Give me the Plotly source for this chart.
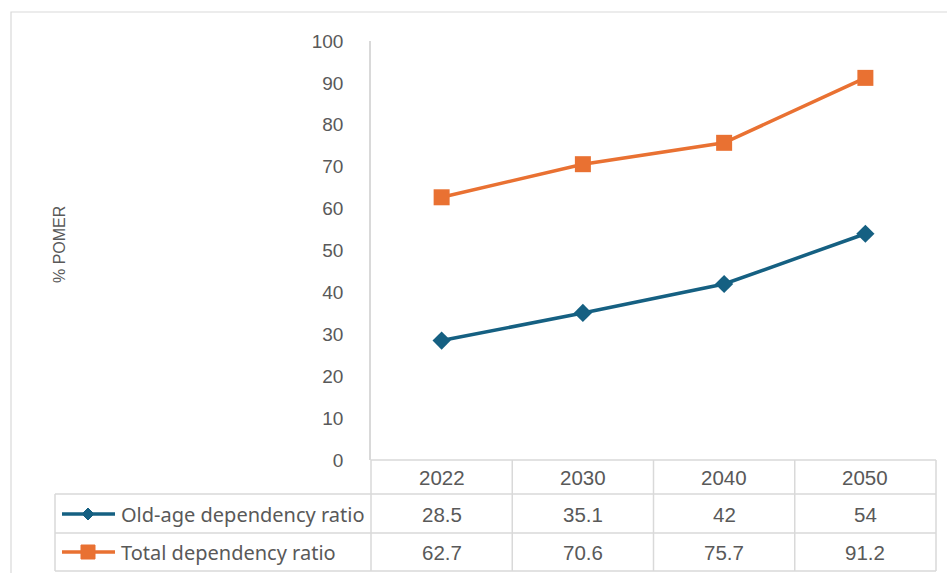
import plotly.graph_objects as go

# Dependency ratios by year
years = ["2022", "2030", "2040", "2050"]
old_age = [28.5, 35.1, 42, 54]
total = [62.7, 70.6, 75.7, 91.2]
series_names = ["Old-age dependency ratio", "Total dependency ratio"]

BLUE = "#156082"
ORANGE = "#E97132"
GRID = "#D9D9D9"
TEXT = "#595959"

W, H = 947, 573
PL, PR, PT, PB = 371, 936, 41, 460  # plot area in pixels


def px(xp):
    return (xp - PL) / (PR - PL)


def py(yp):
    return (PB - yp) / (PB - PT)


xs = list(range(len(years)))

fig = go.Figure()
fig.add_trace(go.Scatter(
    x=xs, y=old_age, mode="lines+markers", name=series_names[0],
    line=dict(color=BLUE, width=3.5),
    marker=dict(symbol="diamond", size=14, color=BLUE),
    cliponaxis=False,
))
fig.add_trace(go.Scatter(
    x=xs, y=total, mode="lines+markers", name=series_names[1],
    line=dict(color=ORANGE, width=3.5),
    marker=dict(symbol="square", size=16, color=ORANGE),
    cliponaxis=False,
))

shapes = []
annotations = []

# outer chart border
shapes.append(dict(type="rect", xref="paper", yref="paper",
                   x0=px(11), x1=px(960), y0=py(590), y1=py(12),
                   line=dict(color=GRID, width=1.2), layer="below"))

# data table grid
row_tops = [460, 494, 533, 571]
col_edges = [PL + i * (PR - PL) / len(years) for i in range(len(years) + 1)]
LEFT = 55
for i, yl in enumerate(row_tops):
    x0 = PL if i == 0 else LEFT
    shapes.append(dict(type="line", xref="paper", yref="paper",
                       x0=px(x0), x1=px(PR), y0=py(yl), y1=py(yl),
                       line=dict(color=GRID, width=1.5)))
for xe in col_edges:
    shapes.append(dict(type="line", xref="paper", yref="paper",
                       x0=px(xe), x1=px(xe), y0=py(460), y1=py(571),
                       line=dict(color=GRID, width=1.5)))
shapes.append(dict(type="line", xref="paper", yref="paper",
                   x0=px(LEFT), x1=px(LEFT), y0=py(494), y1=py(571),
                   line=dict(color=GRID, width=1.5)))

# table text: header and values
row_centers = [477, 514, 552]
for j, yr in enumerate(years):
    cx = (col_edges[j] + col_edges[j + 1]) / 2
    cells = [yr, f"{old_age[j]:g}", f"{total[j]:g}"]
    for r, t in enumerate(cells):
        annotations.append(dict(x=px(cx), y=py(row_centers[r]), xref="paper", yref="paper",
                                text=t, showarrow=False, xanchor="center", yanchor="middle",
                                font=dict(family="Liberation Sans, Arial", size=20.5, color=TEXT)))

# legend keys inside the table
for r, (name, col, sym) in enumerate([(series_names[0], BLUE, "diamond"),
                                       (series_names[1], ORANGE, "square")]):
    yc = row_centers[r + 1]
    shapes.append(dict(type="line", xref="paper", yref="paper",
                       x0=px(62), x1=px(115), y0=py(yc), y1=py(yc),
                       line=dict(color=col, width=3.5)))
    if sym == "diamond":
        d = 6
        path = (f"M {px(88)} {py(yc - d)} L {px(88 + d)} {py(yc)} "
                f"L {px(88)} {py(yc + d)} L {px(88 - d)} {py(yc)} Z")
        shapes.append(dict(type="path", xref="paper", yref="paper", path=path,
                           fillcolor=col, line=dict(color=col, width=1)))
    else:
        s = 7
        shapes.append(dict(type="rect", xref="paper", yref="paper",
                           x0=px(88 - s), x1=px(88 + s), y0=py(yc + s), y1=py(yc - s),
                           fillcolor=col, line=dict(color=col, width=1)))
    annotations.append(dict(x=px(119), y=py(yc), xref="paper", yref="paper",
                            text=name, showarrow=False, xanchor="left", yanchor="middle",
                            font=dict(family="Noto Sans", size=20, color=TEXT)))

# y-axis title
annotations.append(dict(x=px(59), y=py(245), xref="paper", yref="paper",
                        text="% POMER", showarrow=False, textangle=-90,
                        xanchor="center", yanchor="middle",
                        font=dict(family="Liberation Sans, Arial", size=16, color=TEXT)))

fig.update_layout(
    width=W, height=H,
    margin=dict(l=PL, r=W - PR, t=PT, b=H - PB),
    paper_bgcolor="white", plot_bgcolor="white",
    showlegend=False,
    shapes=shapes, annotations=annotations,
    xaxis=dict(range=[-0.5, len(years) - 0.5], showticklabels=False, showgrid=False,
               zeroline=False, showline=False, fixedrange=True),
    yaxis=dict(range=[0, 100], dtick=10, showgrid=False, zeroline=False,
               showline=True, linecolor=GRID, linewidth=1.5,
               ticks="", ticklabelstandoff=22,
               tickfont=dict(family="Liberation Sans, Arial", size=19, color=TEXT)),
)

fig.write_html("out.html")
